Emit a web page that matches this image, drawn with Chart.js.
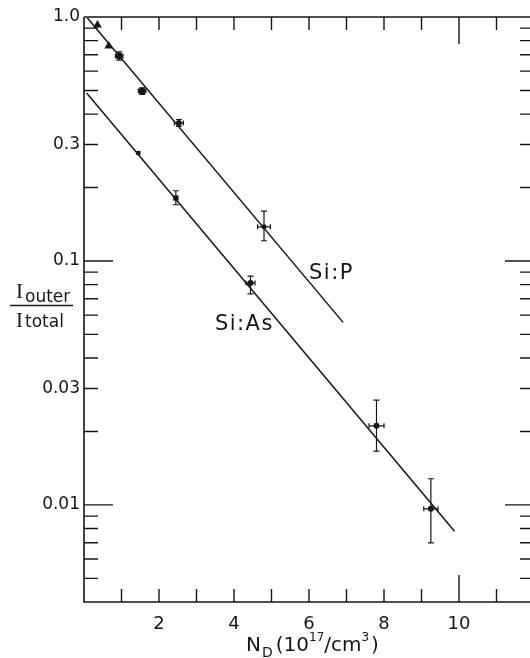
<!DOCTYPE html>
<html>
<head>
<meta charset="utf-8">
<script src="https://cdn.jsdelivr.net/npm/chart.js@4"></script>
<style>
  html, body { margin: 0; padding: 0; background: #fff; overflow: hidden; width: 530px; height: 658px; }
  canvas { display: block; }
</style>
</head>
<body>
<canvas id="chart" width="540" height="658"></canvas>
<script>
// Si:P measurements (triangles first, then crosses)
const siPX = [0.36, 0.66, 0.94, 1.55, 2.53, 4.8];
const siPY = [0.927, 0.76, 0.692, 0.497, 0.368, 0.138];
const siPXErr = [0, 0, 0.1, 0.1, 0.12, 0.17];
const siPYLow = [0.927, 0.76, 0.665, 0.482, 0.356, 0.121];
const siPYHigh = [0.927, 0.76, 0.72, 0.512, 0.38, 0.16];

// Si:As measurements
const siAsX = [1.45, 2.45, 4.44, 7.8, 9.25];
const siAsY = [0.277, 0.181, 0.0813, 0.0211, 0.00964];
const siAsXErr = [0, 0.05, 0.12, 0.2, 0.19];
const siAsYLow = [0.277, 0.17, 0.0733, 0.0166, 0.00699];
const siAsYHigh = [0.277, 0.194, 0.0866, 0.0269, 0.0128];

// fitted straight lines (end points)
const fitPX = [0.09, 6.91];
const fitPY = [0.99, 0.056];
const fitAsX = [0.07, 9.88];
const fitAsY = [0.488, 0.0078];

// axes
const xLabelTicks = [2, 4, 6, 8, 10];
const xMarkTicks = [1, 2, 3, 4, 5, 6, 7, 8, 9, 10, 11];
const xLongTicks = [10];
const yLabelTicks = [1.0, 0.3, 0.1, 0.03, 0.01];
const yTickLabels = ['1.0', '0.3', '0.1', '0.03', '0.01'];
const yMarkTicks = [0.9, 0.8, 0.7, 0.6, 0.5, 0.4, 0.3, 0.2, 0.1,
  0.09, 0.08, 0.07, 0.06, 0.05, 0.04, 0.03, 0.02, 0.01,
  0.009, 0.008, 0.007, 0.006, 0.005];
const yLongTicks = [0.1, 0.01];

const ink = '#161616';
const fontFamily = '"DejaVu Sans", sans-serif';
const serifFamily = '"Liberation Serif", "DejaVu Serif", serif';

const zip = (xs, ys) => xs.map((x, i) => ({ x: x, y: ys[i] }));

// inward ticks, frame, error bars and text
const decorPlugin = {
  id: 'decor',
  afterDatasetsDraw(chart) {
    const { ctx, chartArea: a, scales } = chart;
    const sx = scales.x, sy = scales.y;
    ctx.save();
    ctx.strokeStyle = ink;
    ctx.fillStyle = ink;

    // frame
    ctx.lineWidth = 1.6;
    ctx.beginPath();
    ctx.moveTo(a.left, a.top); ctx.lineTo(a.right, a.top);
    ctx.moveTo(a.left, a.top); ctx.lineTo(a.left, a.bottom);
    ctx.lineTo(a.right, a.bottom);
    ctx.lineTo(a.right, a.top);
    ctx.stroke();

    // x ticks top and bottom
    ctx.lineWidth = 1.4;
    ctx.beginPath();
    xMarkTicks.forEach(v => {
      const px = sx.getPixelForValue(v);
      const len = xLongTicks.includes(v) ? 27 : 13;
      ctx.moveTo(px, a.bottom); ctx.lineTo(px, a.bottom - len);
      ctx.moveTo(px, a.top); ctx.lineTo(px, a.top + len);
    });
    // y ticks left and right
    yMarkTicks.forEach(v => {
      const py = sy.getPixelForValue(v);
      const len = yLongTicks.includes(v) ? 29 : 14;
      ctx.moveTo(a.left, py); ctx.lineTo(a.left + len, py);
      ctx.moveTo(a.right, py); ctx.lineTo(a.right - len, py);
    });
    ctx.stroke();

    // error bars
    const bars = (xs, ys, xe, lo, hi) => {
      ctx.lineWidth = 1.2;
      ctx.beginPath();
      xs.forEach((x, i) => {
        const px = sx.getPixelForValue(x);
        const py = sy.getPixelForValue(ys[i]);
        if (xe[i] > 0) {
          const l = sx.getPixelForValue(x - xe[i]);
          const r = sx.getPixelForValue(x + xe[i]);
          ctx.moveTo(l, py); ctx.lineTo(r, py);
          ctx.moveTo(l, py - 2.5); ctx.lineTo(l, py + 2.5);
          ctx.moveTo(r, py - 2.5); ctx.lineTo(r, py + 2.5);
        }
        if (hi[i] > lo[i]) {
          const t = sy.getPixelForValue(hi[i]);
          const b = sy.getPixelForValue(lo[i]);
          ctx.moveTo(px, t); ctx.lineTo(px, b);
          ctx.moveTo(px - 3, t); ctx.lineTo(px + 3, t);
          ctx.moveTo(px - 3, b); ctx.lineTo(px + 3, b);
        }
      });
      ctx.stroke();
    };
    bars(siPX, siPY, siPXErr, siPYLow, siPYHigh);
    bars(siAsX, siAsY, siAsXErr, siAsYLow, siAsYHigh);

    // series labels
    ctx.textBaseline = 'alphabetic';
    ctx.textAlign = 'left';
    ctx.font = '21px ' + fontFamily;
    ctx.letterSpacing = '1.5px';
    ctx.fillText('Si:P', sx.getPixelForValue(6.0), sy.getPixelForValue(0.0844));
    ctx.fillText('Si:As', sx.getPixelForValue(3.49), sy.getPixelForValue(0.0521));
    ctx.letterSpacing = '0px';

    // run of text pieces with sub/superscripts
    const run = (x, parts) => {
      parts.forEach(p => {
        ctx.font = p.size + 'px ' + (p.fam || fontFamily);
        ctx.fillText(p.t, x, p.y);
        x += ctx.measureText(p.t).width + (p.gap || 0);
      });
      return x;
    };

    // y axis title as a fraction
    run(16, [{ t: 'I', size: 21, y: 298, gap: 2, fam: serifFamily }, { t: 'outer', size: 17, y: 302 }]);
    ctx.lineWidth = 1.4;
    ctx.beginPath();
    ctx.moveTo(10, 305.5); ctx.lineTo(73, 305.5);
    ctx.stroke();
    run(16, [{ t: 'I', size: 21, y: 327, gap: 2, fam: serifFamily }, { t: 'total', size: 17, y: 327 }]);

    // x axis title
    run(246, [
      { t: 'N', size: 20, y: 651, gap: 1 },
      { t: 'D', size: 14, y: 657, gap: 3 },
      { t: '(10', size: 20, y: 651 },
      { t: '17', size: 12, y: 641 },
      { t: '/cm', size: 20, y: 651 },
      { t: '3', size: 12, y: 641, gap: 2 },
      { t: ')', size: 20, y: 651 }
    ]);
    ctx.restore();
  }
};

const ctx = document.getElementById('chart').getContext('2d');
const chart = new Chart(ctx, {
  type: 'scatter',
  data: {
    datasets: [
      {
        label: 'Si:P fit',
        type: 'line',
        data: zip(fitPX, fitPY),
        borderColor: ink,
        borderWidth: 1.5,
        pointRadius: 0,
        fill: false,
      },
      {
        label: 'Si:As fit',
        type: 'line',
        data: zip(fitAsX, fitAsY),
        borderColor: ink,
        borderWidth: 1.5,
        pointRadius: 0,
        fill: false,
      },
      {
        label: 'Si:P',
        data: zip(siPX, siPY),
        pointStyle: ['triangle', 'triangle', 'circle', 'circle', 'circle', 'circle'],
        pointRadius: [5, 5, 3.5, 3.5, 3, 2.5],
        backgroundColor: ink,
        borderColor: ink,
        borderWidth: 0,
      },
      {
        label: 'Si:As',
        data: zip(siAsX, siAsY),
        pointStyle: ['rect', 'rect', 'circle', 'circle', 'circle'],
        pointRadius: [3, 3.5, 3, 3, 3],
        backgroundColor: ink,
        borderColor: ink,
        borderWidth: 0,
      },
    ],
  },
  options: {
    responsive: false,
    animation: false,
    layout: { padding: { top: 17, right: 6, left: 0, bottom: 0 } },
    plugins: {
      legend: { display: false },
      tooltip: { enabled: false },
    },
    scales: {
      x: {
        type: 'linear',
        min: 0,
        max: 12,
        grid: { display: false, drawTicks: false },
        border: { display: false },
        afterBuildTicks: s => { s.ticks = xLabelTicks.map(v => ({ value: v })); },
        afterFit: s => { s.height = 56; },
        ticks: {
          autoSkip: false,
          maxRotation: 0,
          padding: 12,
          color: ink,
          font: { family: fontFamily, size: 18 },
          callback: v => String(v),
        },
      },
      y: {
        type: 'logarithmic',
        min: 0.004,
        max: 1,
        grid: { display: false, drawTicks: false },
        border: { display: false },
        afterBuildTicks: s => { s.ticks = yLabelTicks.map(v => ({ value: v })); },
        afterFit: s => { s.width = 84; },
        ticks: {
          autoSkip: false,
          padding: 4,
          color: ink,
          font: { family: fontFamily, size: 17 },
          callback: (v, i) => yTickLabels[i],
        },
      },
    },
  },
  plugins: [decorPlugin],
});
</script>
</body>
</html>
